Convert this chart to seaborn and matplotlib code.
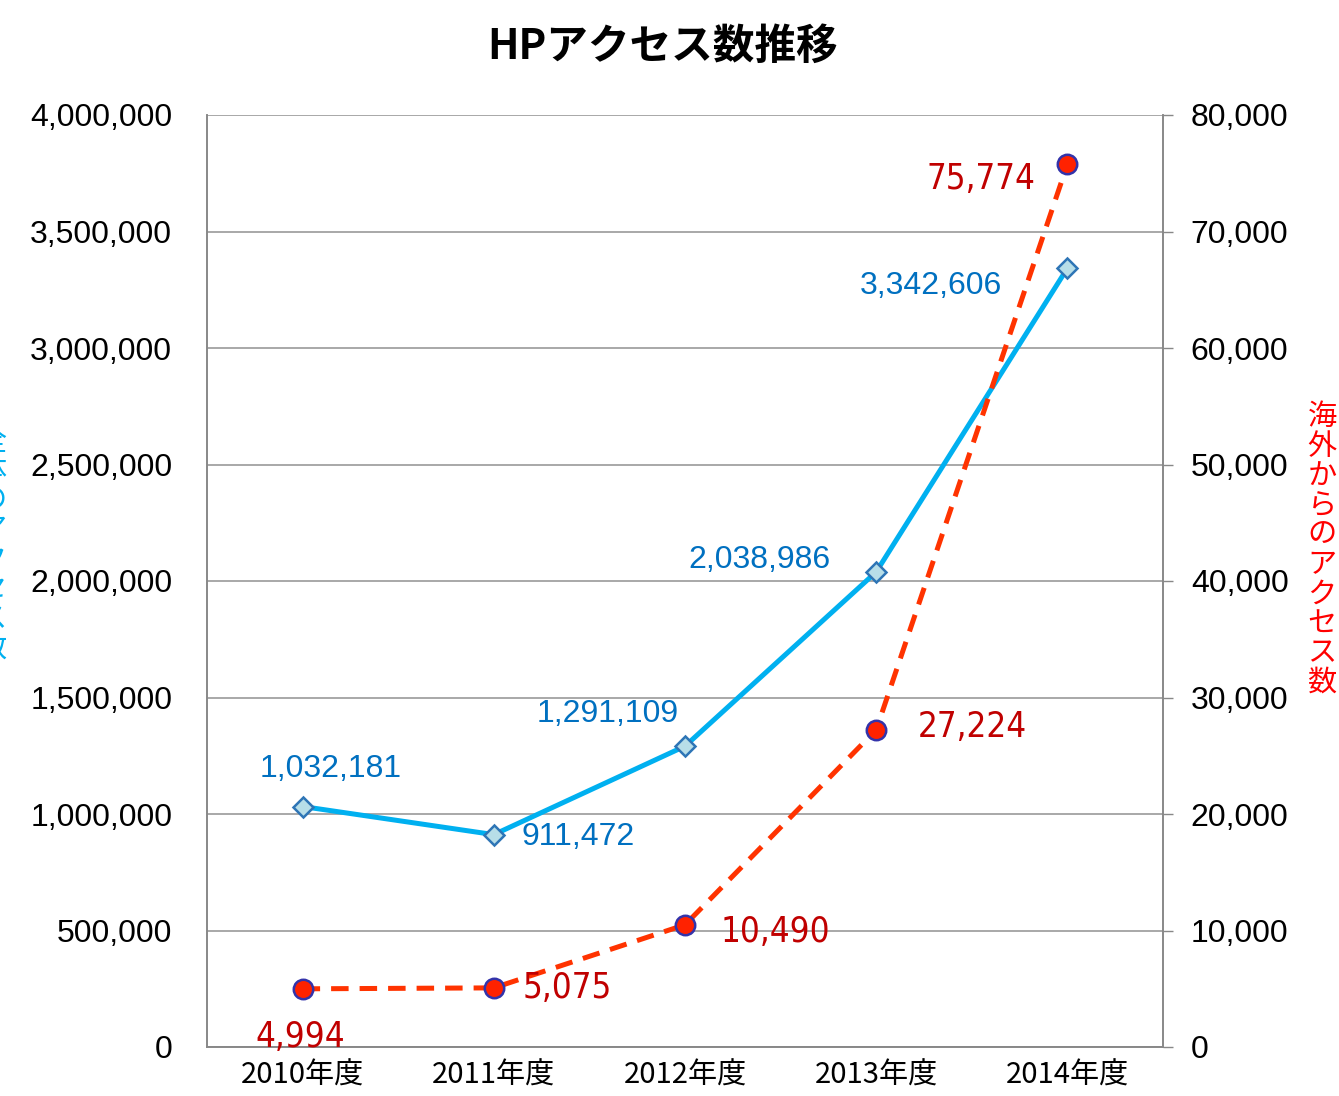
import matplotlib
matplotlib.use('Agg')
import matplotlib.pyplot as plt
import seaborn as sns
import numpy as np
import pandas as pd

years = ['2010年度', '2011年度', '2012年度', '2013年度', '2014年度']
total_access = [1032181, 911472, 1291109, 2038986, 3342606]
overseas_access = [4994, 5075, 10490, 27224, 75774]
left_ticks = list(range(0, 4000001, 500000))
right_ticks = list(range(0, 80001, 10000))

sns.set_style('white')
plt.rcParams['font.family'] = ['Liberation Sans', 'Noto Sans CJK JP', 'DejaVu Sans']

df = pd.DataFrame({'year': years, 'idx': range(len(years)),
                   'total': total_access, 'overseas': overseas_access})

fig = plt.figure(figsize=(13.39, 10.96), dpi=100)
ax = fig.add_axes([207/1339, 1 - 1047/1096, (1163-207)/1339, (1047-115)/1096])
ax2 = ax.twinx()

sns.lineplot(data=df, x='idx', y='total', ax=ax, color='#00B0F0', linewidth=3.6,
             marker='D', markersize=10, markerfacecolor='#B7DEE8',
             markeredgecolor='#2E75B6', markeredgewidth=1.8, zorder=3)
sns.lineplot(data=df, x='idx', y='overseas', ax=ax2, color='#FF3300', linewidth=3.6,
             marker='o', markersize=14, markerfacecolor='#FF2200',
             markeredgecolor='#3333AA', markeredgewidth=1.8, zorder=3)
ax2.lines[0].set_dashes((3.5, 2.2))

ax.set_xlim(-0.5, 4.5)
ax.set_ylim(0, 4000000)
ax2.set_ylim(0, 80000)
ax.set_yticks(left_ticks)
ax.set_yticklabels([f'{v:,}' for v in left_ticks], fontsize=23, color='black')
ax2.set_yticks(right_ticks)
ax2.set_yticklabels([f'{v:,}' for v in right_ticks], fontsize=23, color='black')
ax.set_xticks(range(len(years)))
ax.set_xticklabels(years, fontsize=21, color='black', family=['Noto Sans CJK JP'])
ax.tick_params(axis='x', length=0, pad=10)
ax.tick_params(axis='y', length=0, pad=25)
ax2.tick_params(axis='y', length=7, width=1, color='#888888', pad=13)
ax.set_xlabel('')
ax.set_ylabel('')
ax2.set_ylabel('')
ax.grid(axis='y', color='#999999', linewidth=1.2)
ax.grid(axis='x', visible=False)
for a in (ax, ax2):
    for s in a.spines.values():
        s.set_color('#888888')
        s.set_linewidth(1.2)
    a.spines['top'].set_visible(False)

# blue labels (offset in pixels)
blue_off = [(28, 38, 'center'), (28, -2, 'left'), (-6, 32, 'right'), (-46, 12, 'right'), (-65, -18, 'right')]
for i, (v, (dx, dy, ha)) in enumerate(zip(total_access, blue_off)):
    ax.annotate(f'{v:,}', (i, v), xytext=(dx, dy), textcoords='offset pixels',
                ha=ha, va='center', fontsize=23, color='#0070C0')

red_off = [(-2, -48, 'center'), (29, 0, 'left'), (36, -7, 'left'), (42, 3, 'left'), (-32, -15, 'right')]
for i, (v, (dx, dy, ha)) in enumerate(zip(overseas_access, red_off)):
    ax2.annotate(f'{v:,}', (i, v), xytext=(dx, dy), textcoords='offset pixels',
                 ha=ha, va='center', fontsize=25, color='#C00000',
                 family=['DejaVu Sans'], fontstretch='condensed')

fig.text(663/1339, 1 - 47/1096, 'HPアクセス数推移', ha='center', va='center',
         fontsize=30, fontweight='bold', color='black', family=['Noto Sans CJK JP'])

fig.text(1322/1339, 1 - 550/1096, '\n'.join('海外からのアクセス数'), ha='center', va='center',
         fontsize=21, color='#FF0000', linespacing=0.98, family=['Noto Sans CJK JP'])
fig.text(-8/1339, 1 - 545/1096, '\n'.join('全体のアクセス数'), ha='center', va='center',
         fontsize=21, color='#00B0F0', linespacing=0.98, family=['Noto Sans CJK JP'])

fig.savefig('out.png', dpi=100)
